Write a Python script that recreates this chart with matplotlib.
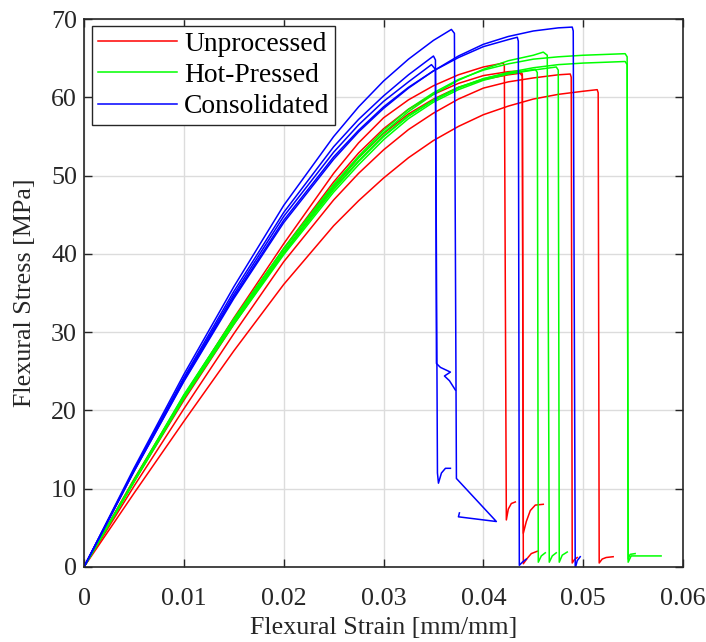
import matplotlib
matplotlib.use("Agg")
import matplotlib.pyplot as plt

plt.rcParams['font.family'] = ['Liberation Serif', 'DejaVu Serif']

# ---------------- data (strain [mm/mm], stress [MPa]) ----------------
series_names = ["Unprocessed", "Hot-Pressed", "Consolidated"]
series_colors = ["#ff0000", "#00ff00", "#0000ff"]

# Unprocessed (red)
r1_x = [0, 0.005, 0.01, 0.015, 0.02, 0.025, 0.0275, 0.03, 0.0325, 0.035, 0.0375, 0.04, 0.042,
        0.0421, 0.0423, 0.0425, 0.0428, 0.0432]
r1_y = [0, 11.2, 21.8, 31.8, 41.3, 50.3, 54.2, 57.4, 59.7, 61.5, 62.9, 63.9, 64.4,
        64.0, 6.0, 7.4, 8.1, 8.3]
r2_x = [0, 0.005, 0.01, 0.015, 0.02, 0.025, 0.0275, 0.03, 0.0325, 0.035, 0.0375, 0.04, 0.0425, 0.0437,
        0.0439, 0.0440, 0.0443, 0.0447, 0.0452, 0.046]
r2_y = [0, 11.0, 21.6, 31.4, 40.7, 49.2, 52.9, 56.0, 58.5, 60.4, 61.8, 62.8, 63.3, 63.4,
        63.0, 4.3, 5.8, 7.2, 7.9, 8.0]
r3_x = [0, 0.005, 0.01, 0.015, 0.02, 0.025, 0.0275, 0.03, 0.0325, 0.035, 0.0375, 0.04, 0.0425, 0.0437,
        0.0439, 0.0440, 0.0444, 0.0448, 0.0454]
r3_y = [0, 10.9, 21.3, 31.0, 40.2, 48.6, 52.3, 55.4, 57.9, 59.8, 61.3, 62.3, 62.9, 63.1,
        62.7, 0.4, 1.1, 1.7, 2.0]
r4_x = [0, 0.005, 0.01, 0.015, 0.02, 0.025, 0.0275, 0.03, 0.0325, 0.035, 0.0375, 0.04, 0.0425, 0.045,
        0.0475, 0.0487, 0.0488, 0.0489, 0.0491, 0.0494]
r4_y = [0, 10.3, 20.2, 29.8, 39.0, 46.9, 50.3, 53.3, 55.9, 58.0, 59.8, 61.2, 62.0, 62.5,
        62.9, 63.0, 62.6, 0.5, 0.9, 1.2]
r5_x = [0, 0.005, 0.01, 0.015, 0.02, 0.025, 0.0275, 0.03, 0.0325, 0.035, 0.0375, 0.04, 0.0425, 0.045,
        0.0475, 0.05, 0.0514, 0.0515, 0.0516, 0.0519, 0.0523, 0.053]
r5_y = [0, 9.4, 18.6, 27.6, 36.1, 43.6, 46.8, 49.7, 52.3, 54.5, 56.3, 57.8, 58.9, 59.8,
        60.4, 60.8, 61.0, 60.6, 0.5, 1.0, 1.2, 1.3]

# Hot-Pressed (green)
g1_x = [0, 0.005, 0.01, 0.015, 0.02, 0.025, 0.0275, 0.03, 0.0325, 0.035, 0.0375, 0.04, 0.0425, 0.045,
        0.046, 0.0464, 0.0466, 0.0469, 0.0473]
g1_y = [0, 11.0, 21.9, 31.6, 40.6, 48.7, 52.3, 55.5, 58.2, 60.4, 62.2, 63.6, 64.7, 65.4,
        65.8, 65.4, 0.6, 1.4, 1.8]
g2_x = [0, 0.005, 0.01, 0.015, 0.02, 0.025, 0.0275, 0.03, 0.0325, 0.035, 0.0375, 0.04, 0.0425, 0.045,
        0.0475, 0.05, 0.0542, 0.0544, 0.0545, 0.0548, 0.0552, 0.0578]
g2_y = [0, 11.1, 22.0, 31.7, 40.7, 48.9, 52.5, 55.8, 58.5, 60.6, 62.3, 63.5, 64.3, 64.9,
        65.2, 65.4, 65.6, 65.2, 0.6, 1.4, 1.4, 1.4]
g3_x = [0, 0.005, 0.01, 0.015, 0.02, 0.025, 0.0275, 0.03, 0.0325, 0.035, 0.0375, 0.04, 0.0425, 0.045,
        0.0475, 0.05, 0.0542, 0.0544, 0.0545, 0.0547, 0.0552]
g3_y = [0, 10.9, 21.7, 31.2, 40.1, 48.2, 51.8, 55.0, 57.6, 59.6, 61.2, 62.4, 63.2, 63.8,
        64.2, 64.4, 64.6, 64.2, 1.0, 1.6, 1.7]
g4_x = [0, 0.005, 0.01, 0.015, 0.02, 0.025, 0.0275, 0.03, 0.0325, 0.035, 0.0375, 0.04, 0.0425, 0.0452,
        0.0454, 0.0455, 0.0458, 0.0462]
g4_y = [0, 11.0, 21.8, 31.4, 40.3, 48.4, 51.9, 55.1, 57.7, 59.7, 61.3, 62.4, 63.1, 63.6,
        63.2, 0.6, 1.4, 1.8]
g5_x = [0, 0.005, 0.01, 0.015, 0.02, 0.025, 0.0275, 0.03, 0.0325, 0.035, 0.0375, 0.04, 0.0425, 0.045,
        0.0473, 0.0475, 0.0476, 0.0479, 0.0484]
g5_y = [0, 10.8, 21.5, 31.0, 39.9, 47.9, 51.4, 54.6, 57.3, 59.4, 61.0, 62.2, 63.0, 63.5,
        63.9, 63.5, 0.6, 1.5, 1.9]

# Consolidated (blue)
b1_x = [0, 0.005, 0.01, 0.015, 0.02, 0.025, 0.0275, 0.03, 0.0325, 0.035, 0.0368,
        0.0371, 0.0373, 0.0413, 0.0375, 0.0376]
b1_y = [0, 12.6, 24.6, 35.8, 46.2, 55.0, 58.8, 62.1, 64.9, 67.3, 68.7,
        68.2, 11.3, 5.8, 6.4, 6.9]
b2_x = [0, 0.005, 0.01, 0.015, 0.02, 0.025, 0.0275, 0.03, 0.0325, 0.035,
        0.0352, 0.0354, 0.0355, 0.0358, 0.0362, 0.0367]
b2_y = [0, 12.4, 24.2, 35.2, 45.3, 53.7, 57.2, 60.2, 62.9, 65.3,
        64.8, 12.0, 10.7, 12.0, 12.6, 12.6]
b3_x = [0, 0.005, 0.01, 0.015, 0.02, 0.025, 0.0275, 0.03, 0.0325, 0.0348,
        0.0352, 0.0353, 0.0357, 0.0362, 0.0367, 0.0361, 0.0366, 0.0372]
b3_y = [0, 12.3, 24.0, 34.8, 44.8, 53.0, 56.5, 59.5, 62.0, 64.2,
        63.6, 26.0, 25.5, 25.2, 24.9, 24.4, 23.8, 22.6]
b4_x = [0, 0.005, 0.01, 0.015, 0.02, 0.025, 0.0275, 0.03, 0.0325, 0.035, 0.0375, 0.04, 0.0425, 0.0434,
        0.0435, 0.0436, 0.0439, 0.0443]
b4_y = [0, 12.2, 23.8, 34.5, 44.3, 52.4, 55.8, 58.8, 61.3, 63.4, 65.1, 66.5, 67.4, 67.7,
        67.2, 0.2, 0.6, 1.0]
b5_x = [0, 0.005, 0.01, 0.015, 0.02, 0.025, 0.0275, 0.03, 0.0325, 0.035, 0.0375, 0.04, 0.0425, 0.045,
        0.0475, 0.0489, 0.0490, 0.0492, 0.0494, 0.0497]
b5_y = [0, 12.2, 23.7, 34.3, 44.0, 52.1, 55.6, 58.6, 61.2, 63.4, 65.3, 66.8, 67.8, 68.5,
        68.9, 69.0, 68.5, -0.2, 0.8, 1.3]

groups = [
    [(r1_x, r1_y), (r2_x, r2_y), (r3_x, r3_y), (r4_x, r4_y), (r5_x, r5_y)],
    [(g1_x, g1_y), (g2_x, g2_y), (g3_x, g3_y), (g4_x, g4_y), (g5_x, g5_y)],
    [(b1_x, b1_y), (b2_x, b2_y), (b3_x, b3_y), (b4_x, b4_y), (b5_x, b5_y)],
]

x_ticks = [0, 0.01, 0.02, 0.03, 0.04, 0.05, 0.06]
x_tick_labels = ["0", "0.01", "0.02", "0.03", "0.04", "0.05", "0.06"]
y_ticks = [0, 10, 20, 30, 40, 50, 60, 70]

# ---------------- figure ----------------
fig = plt.figure(figsize=(7.06, 6.42), dpi=100)
ax = fig.add_axes([0.119, 0.117, 0.8485, 0.853])

for name, color, curves in zip(series_names, series_colors, groups):
    for i, (xs, ys) in enumerate(curves):
        ax.plot(xs, ys, color=color, lw=1.1, label=name if i == 0 else None,
                solid_joinstyle='round', clip_on=True)

ax.set_xlim(0, 0.06)
ax.set_ylim(0, 70)
ax.set_xticks(x_ticks)
ax.set_xticklabels(x_tick_labels)
ax.set_yticks(y_ticks)

ax.grid(True, color='#dcdcdc', lw=1.0)
ax.set_axisbelow(True)
for s in ax.spines.values():
    s.set_color('#262626')
    s.set_linewidth(1.2)
ax.tick_params(direction='in', length=6, width=1.0, colors='#262626',
               labelsize=18.7, top=True, right=True)
ax.tick_params(axis='x', pad=15)
ax.tick_params(axis='y', pad=5)

ax.set_xlabel("Flexural Strain [mm/mm]", fontsize=18.7, color='#262626', labelpad=5)
ax.set_ylabel("Flexural Stress [MPa]", fontsize=18.7, color='#262626', labelpad=11)

leg = ax.legend(loc='upper left', bbox_to_anchor=(0.0134, 0.988), borderaxespad=0.0,
                fontsize=19.8, frameon=True, fancybox=False,
                edgecolor='#262626', framealpha=1.0, handlelength=2.9,
                borderpad=0.2, labelspacing=0.22, handletextpad=0.25)
leg.get_frame().set_linewidth(1.0)

fig.savefig("out.png", dpi=100)
